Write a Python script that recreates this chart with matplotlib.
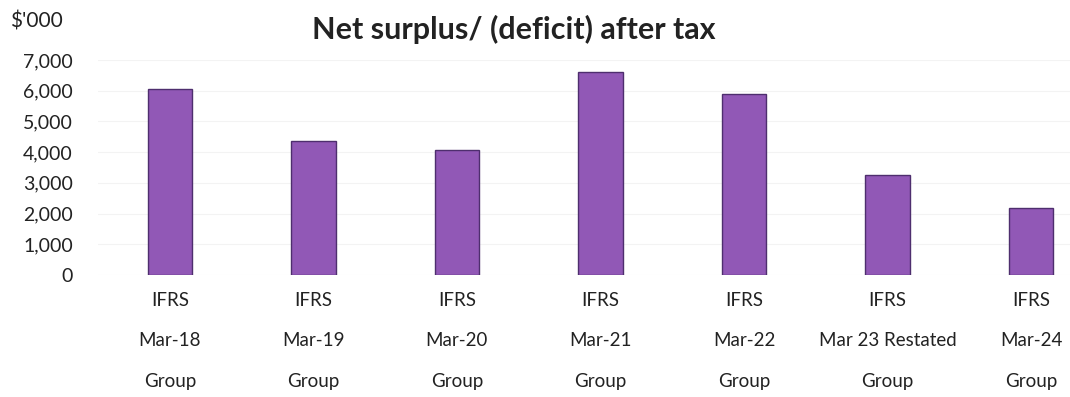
import matplotlib
matplotlib.use("Agg")
import matplotlib.pyplot as plt

periods = ["Mar-18", "Mar-19", "Mar-20", "Mar-21", "Mar-22", "Mar 23 Restated", "Mar-24"]
basis = ["IFRS"] * 7
entity = ["Group"] * 7
surplus = [6060, 4350, 4060, 6600, 5880, 3260, 2190]
yticks = [0, 1000, 2000, 3000, 4000, 5000, 6000, 7000]

plt.rcParams["font.family"] = ["Lato", "DejaVu Sans"]

fig = plt.figure(figsize=(10.7, 3.97), dpi=100)
ax = fig.add_axes([98 / 1070, (397 - 275) / 397, 1 - 98 / 1070, 215 / 397])

x = list(range(len(periods)))
ax.bar(x, surplus, width=0.31, color="#9158b6", edgecolor="#4e2e6e", linewidth=1.0, zorder=3)

ax.set_xlim(-0.5, 6.27)
ax.set_ylim(0, 7000)
ax.set_yticks(yticks)
ax.set_yticklabels([f"{v:,}" for v in yticks], fontsize=14, color="#222222")
ax.set_xticks(x)
ax.set_xticklabels([f"{b}\n{p}\n{e}" for b, p, e in zip(basis, periods, entity)],
                   fontsize=13.5, color="#222222", linespacing=2.7, va="top")
ax.tick_params(axis="y", length=0, pad=18)
ax.tick_params(axis="x", length=0, pad=12)
ax.grid(axis="y", color="#f3f3f3", linewidth=0.8, zorder=0)
for s in ax.spines.values():
    s.set_visible(False)

fig.text(514 / 1070, 1 - 29 / 397, "Net surplus/ (deficit) after tax", ha="center", va="center",
         fontsize=22, fontweight="bold", color="#222222")
fig.text(10 / 1070, 1 - 22 / 397, "$'000", ha="left", va="center", fontsize=15, color="#222222")

fig.savefig("out.png", dpi=100, facecolor="white")
